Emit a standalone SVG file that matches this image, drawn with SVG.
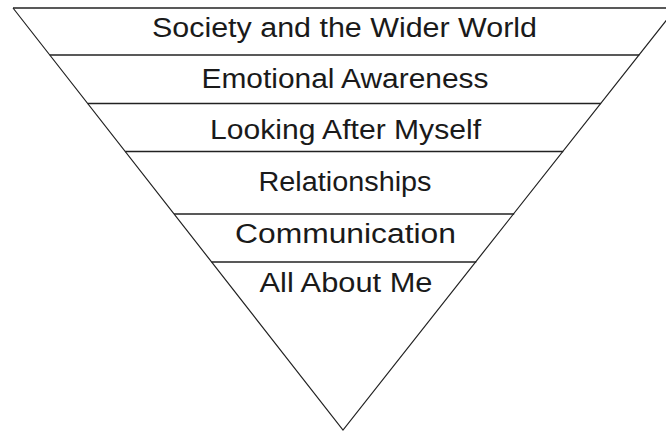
<svg xmlns="http://www.w3.org/2000/svg" width="666" height="434" viewBox="0 0 666 434">
  <style>
    .edge { fill: none; stroke: #222; stroke-width: 1.2; }
    .band { stroke: #222; stroke-width: 1.6; }
    .label { font-family: "Liberation Sans", "DejaVu Sans", Arial, sans-serif; font-size: 27px; fill: #1a1a1a; text-anchor: middle; }
  </style>
  <rect width="666" height="434" fill="#fff"/>

  <!-- inverted triangle outline and band dividers -->
  <g id="connectors">
    <polyline class="edge" points="13,8 343,430 676,8"/>
    <line class="band" x1="13" y1="8" x2="666" y2="8"/>
    <line class="band" x1="49.8" y1="55" x2="639.3" y2="55"/>
    <line class="band" x1="87.7" y1="103.5" x2="601.1" y2="103.5"/>
    <line class="band" x1="125.2" y1="151.5" x2="563.2" y2="151.5"/>
    <line class="band" x1="174.1" y1="214" x2="514.2" y2="214"/>
    <line class="band" x1="211.6" y1="262" x2="476.3" y2="262"/>
  </g>

  <g id="society">
    <text class="label" x="344.5" y="37" textLength="385" lengthAdjust="spacingAndGlyphs">Society and the Wider World</text>
  </g>
  <g id="emotional">
    <text class="label" x="345" y="87.5" textLength="287" lengthAdjust="spacingAndGlyphs">Emotional Awareness</text>
  </g>
  <g id="looking-after">
    <text class="label" x="345.5" y="139" textLength="271" lengthAdjust="spacingAndGlyphs">Looking After Myself</text>
  </g>
  <g id="relationships">
    <text class="label" x="345" y="190.5" textLength="173" lengthAdjust="spacingAndGlyphs">Relationships</text>
  </g>
  <g id="communication">
    <text class="label" x="345.5" y="242.5" textLength="221" lengthAdjust="spacingAndGlyphs">Communication</text>
  </g>
  <g id="all-about-me">
    <text class="label" x="346" y="292" textLength="173" lengthAdjust="spacingAndGlyphs">All About Me</text>
  </g>
</svg>
